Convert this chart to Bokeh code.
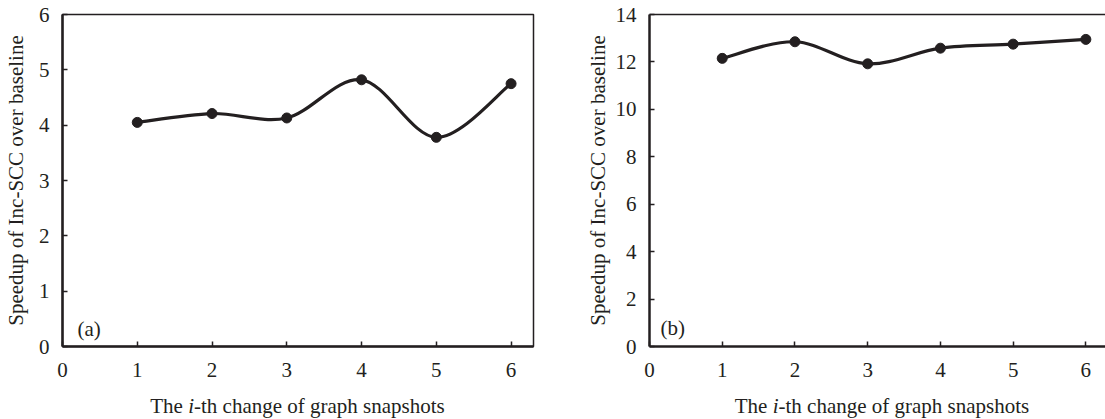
from bokeh.plotting import figure
from bokeh.layouts import row, column
from bokeh.models import Range1d, FixedTicker, LinearAxis, Label, ColumnDataSource, Div, Spacer
from bokeh.embed import file_html
from bokeh.resources import INLINE

# ---------------- data ----------------
changes = [1, 2, 3, 4, 5, 6]
speedup_a = [4.05, 4.21, 4.13, 4.82, 3.78, 4.75]
speedup_b = [12.15, 12.85, 11.92, 12.58, 12.75, 12.95]
x_ticks = [0, 1, 2, 3, 4, 5, 6]
y_ticks_a = [0, 1, 2, 3, 4, 5, 6]
y_ticks_b = [0, 2, 4, 6, 8, 10, 12, 14]
y_label = "Speedup of Inc-SCC over baseline"
x_label_html = "The <i>i</i>-th change of graph snapshots"
panel_tags = ["(a)", "(b)"]

INK = "#231f20"
FONT = "Liberation Serif"
FS = 21


def smooth_segments(xs, ys):
    n = len(xs)
    pts = list(zip(xs, ys))
    d = dict(x0=[], y0=[], x1=[], y1=[], cx0=[], cy0=[], cx1=[], cy1=[])
    for i in range(n - 1):
        p0 = pts[i - 1] if i > 0 else pts[i]
        p1 = pts[i]
        p2 = pts[i + 1]
        p3 = pts[i + 2] if i + 2 < n else pts[i + 1]
        d["x0"].append(p1[0]); d["y0"].append(p1[1])
        d["x1"].append(p2[0]); d["y1"].append(p2[1])
        d["cx0"].append(p1[0] + (p2[0] - p0[0]) / 6.0)
        d["cy0"].append(p1[1] + (p2[1] - p0[1]) / 6.0)
        d["cx1"].append(p2[0] - (p3[0] - p1[0]) / 6.0)
        d["cy1"].append(p2[1] - (p3[1] - p1[1]) / 6.0)
    return ColumnDataSource(d)


def style_axes(p, yticks, label_standoff):
    xa = p.below[0]
    ya = p.left[0]
    for ax in (xa, ya):
        ax.axis_line_color = INK
        ax.axis_line_width = 2.5
        ax.major_tick_line_color = INK
        ax.major_tick_line_width = 1.5
        ax.major_tick_in = 5
        ax.major_tick_out = 0
        ax.minor_tick_line_color = None
        ax.major_label_text_font = FONT
        ax.major_label_text_font_size = f"{FS}px"
        ax.major_label_text_color = INK
    xa.ticker = FixedTicker(ticks=x_ticks)
    xa.major_label_standoff = 16
    ya.ticker = FixedTicker(ticks=yticks)
    ya.major_label_standoff = 13
    ya.axis_label = y_label
    ya.axis_label_text_font = FONT
    ya.axis_label_text_font_size = f"{FS}px"
    ya.axis_label_text_font_style = "normal"
    ya.axis_label_text_color = INK
    ya.axis_label_standoff = label_standoff
    p.xgrid.visible = False
    p.ygrid.visible = False


def make_panel(ys, yticks, ymax, xmax, width, mb_left, mb_right, tag, tagx, tagy,
               label_standoff, full_outline):
    p = figure(width=width, height=394, output_backend="svg", toolbar_location=None,
               x_range=Range1d(0, xmax), y_range=Range1d(0, ymax),
               min_border_left=mb_left, min_border_right=mb_right,
               min_border_top=14, min_border_bottom=48,
               background_fill_color="white", border_fill_color="white")
    style_axes(p, yticks, label_standoff)
    if full_outline:
        p.outline_line_color = INK
        p.outline_line_width = 1.5
    else:
        p.outline_line_color = None
        top = LinearAxis(ticker=FixedTicker(ticks=[]), axis_line_color=INK,
                         axis_line_width=1.5, major_tick_line_color=None,
                         minor_tick_line_color=None,
                         major_label_text_font_size="0px",
                         major_label_standoff=0)
        p.add_layout(top, "above")
    src = smooth_segments(changes, ys)
    p.bezier(x0="x0", y0="y0", x1="x1", y1="y1", cx0="cx0", cy0="cy0",
             cx1="cx1", cy1="cy1", source=src, line_color=INK, line_width=3.2,
             line_cap="round")
    p.scatter(changes, ys, size=10, marker="circle", fill_color=INK, line_color=INK)
    p.add_layout(Label(x=tagx, y=tagy, text=tag, text_font=FONT,
                       text_font_size=f"{FS}px", text_color=INK,
                       text_baseline="alphabetic", text_align="left"))
    return p


def title_div(w):
    return Div(text=x_label_html, width=w, height=25, margin=0,
               styles={"text-align": "center", "font-family": FONT,
                       "font-size": f"{FS}px", "color": INK,
                       "line-height": "25px", "white-space": "nowrap",
                       "overflow": "visible"})


p1 = make_panel(speedup_a, y_ticks_a, 6, 6.3, 543, 62, 10, panel_tags[0], 0.2, 0.32, 8, True)
p2 = make_panel(speedup_b, y_ticks_b, 14, 6.27, 562, 106, 0, panel_tags[1], 0.15, 0.76, 3, False)

titles = row(Spacer(width=62, height=25), title_div(471),
             Spacer(width=126, height=25), title_div(446))
layout = column(row(p1, p2), titles)
open("out.html", "w").write(file_html(layout, INLINE))
